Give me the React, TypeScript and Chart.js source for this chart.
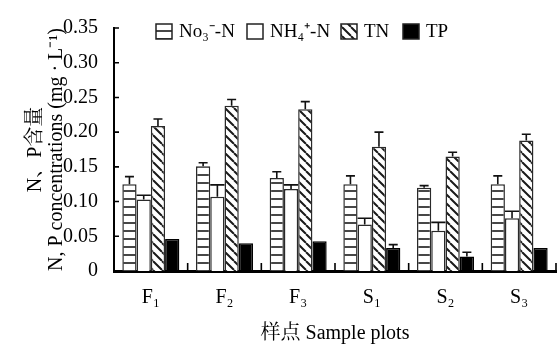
import { useEffect, useRef } from 'react';
import { Chart, registerables } from 'chart.js';

Chart.register(...registerables);

const FONT = '"Liberation Serif", "Times New Roman", "Noto Serif CJK SC", "Noto Sans CJK SC", serif';

const categories = ['F₁', 'F₂', 'F₃', 'S₁', 'S₂', 'S₃'];
const seriesNames = ['No₃⁻-N', 'NH₄⁺-N', 'TN', 'TP'];

const no3 = [0.125, 0.151, 0.134, 0.125, 0.12, 0.125];
const no3Err = [0.011, 0.005, 0.009, 0.012, 0.003, 0.012];
const nh4 = [0.103, 0.107, 0.118, 0.067, 0.058, 0.076];
const nh4Err = [0.006, 0.017, 0.006, 0.009, 0.012, 0.01];
const tn = [0.209, 0.238, 0.233, 0.179, 0.165, 0.188];
const tnErr = [0.01, 0.009, 0.011, 0.021, 0.006, 0.009];
const tp = [0.046, 0.04, 0.043, 0.033, 0.021, 0.033];
const tpErr = [0, 0, 0, 0.005, 0.006, 0];

const yMin = 0;
const yMax = 0.35;
const yStep = 0.05;

const yTitle = ['N、P含量', 'N, P concentrations (mg · L⁻¹)'];
const xTitle = '样点 Sample plots';

function makePattern(kind: string): CanvasPattern | string {
  const s = kind === 'h' ? 8 : 9;
  const c = document.createElement('canvas');
  c.width = s;
  c.height = s;
  const g = c.getContext('2d');
  if (!g) return '#fff';
  g.fillStyle = '#fff';
  g.fillRect(0, 0, s, s);
  g.strokeStyle = '#1a1a1a';
  if (kind === 'h') {
    g.lineWidth = 1.6;
    g.beginPath();
    g.moveTo(0, s - 1);
    g.lineTo(s, s - 1);
    g.stroke();
  } else {
    g.lineWidth = 2;
    g.beginPath();
    for (let k = -1; k <= 1; k++) {
      g.moveTo(k * s, 0);
      g.lineTo(k * s + s, s);
    }
    g.stroke();
  }
  const p = g.createPattern(c, 'repeat');
  return p || '#fff';
}

const errorBarPlugin = {
  id: 'errorBars',
  afterDatasetsDraw(chart: any) {
    const ctx = chart.ctx;
    const yScale = chart.scales.y;
    ctx.save();
    ctx.strokeStyle = '#111';
    ctx.lineWidth = 1.6;
    chart.data.datasets.forEach((ds: any, di: number) => {
      const meta = chart.getDatasetMeta(di);
      const errs: number[] = ds.errors || [];
      meta.data.forEach((el: any, i: number) => {
        const e = errs[i];
        if (!e) return;
        const v = ds.data[i];
        const yTop = yScale.getPixelForValue(v + e);
        const half = ds.fullCap ? el.width / 2 : 4.5;
        ctx.beginPath();
        ctx.moveTo(el.x, el.y);
        ctx.lineTo(el.x, yTop);
        ctx.moveTo(el.x - half, yTop);
        ctx.lineTo(el.x + half, yTop);
        ctx.stroke();
      });
    });
    ctx.restore();
  },
};

const tickPlugin = {
  id: 'innerTicks',
  afterDraw(chart: any) {
    const ctx = chart.ctx;
    const { left, right, bottom } = chart.chartArea;
    const yScale = chart.scales.y;
    ctx.save();
    ctx.strokeStyle = '#000';
    ctx.lineWidth = 1.6;
    ctx.beginPath();
    yScale.ticks.forEach((t: any) => {
      const py = yScale.getPixelForValue(t.value);
      ctx.moveTo(left, py);
      ctx.lineTo(left + 5, py);
    });
    const n = chart.data.labels.length;
    for (let i = 1; i <= n; i++) {
      const px = left + ((right - left) * i) / n;
      ctx.moveTo(px, bottom);
      ctx.lineTo(px, bottom - 8);
    }
    ctx.stroke();
    ctx.restore();
  },
};

const legendPlugin = {
  id: 'insideLegend',
  afterDraw(chart: any) {
    const ctx = chart.ctx;
    const boxX = [156, 247, 341, 403];
    ctx.save();
    ctx.font = '19px ' + FONT;
    ctx.textAlign = 'left';
    ctx.textBaseline = 'alphabetic';
    chart.data.datasets.forEach((ds: any, i: number) => {
      const x = boxX[i];
      ctx.fillStyle = ds.backgroundColor;
      ctx.fillRect(x, 24, 16, 15);
      ctx.strokeStyle = '#222';
      ctx.lineWidth = 1.5;
      ctx.strokeRect(x, 24, 16, 15);
      ctx.fillStyle = '#000';
      ctx.fillText(ds.label, x + 23, 37);
    });
    ctx.restore();
  },
};

export default function App() {
  const ref = useRef<HTMLCanvasElement | null>(null);

  useEffect(() => {
    if (!ref.current) return;
    const common = {
      borderColor: '#2a2a2a',
      borderWidth: 1.5,
      categoryPercentage: 0.774,
      barPercentage: 1,
    };
    const chart = new Chart(ref.current, {
      type: 'bar',
      data: {
        labels: categories,
        datasets: [
          { ...common, label: seriesNames[0], data: no3, errors: no3Err, backgroundColor: makePattern('h') } as any,
          { ...common, label: seriesNames[1], data: nh4, errors: nh4Err, fullCap: true, backgroundColor: '#fff' } as any,
          { ...common, label: seriesNames[2], data: tn, errors: tnErr, backgroundColor: makePattern('d') } as any,
          { ...common, label: seriesNames[3], data: tp, errors: tpErr, backgroundColor: '#000', borderColor: '#000' } as any,
        ],
      },
      options: {
        responsive: false,
        animation: false,
        layout: { padding: { top: 14, right: 1, left: 0, bottom: 0 } },
        plugins: { legend: { display: false }, tooltip: { enabled: false } },
        scales: {
          x: {
            offset: true,
            grid: { display: false, drawTicks: false },
            border: { display: true, color: '#000', width: 3 },
            ticks: { color: '#000', font: { size: 20, family: FONT }, padding: 15, maxRotation: 0 },
            title: {
              display: true,
              text: xTitle,
              color: '#000',
              font: { size: 20, family: FONT },
              padding: { top: 0, bottom: 1 },
            },
            afterFit: (s: any) => {
              s.height = 76;
            },
          },
          y: {
            min: yMin,
            max: yMax,
            grid: { display: false, drawTicks: false },
            border: { display: true, color: '#000', width: 2 },
            ticks: {
              stepSize: yStep,
              color: '#000',
              padding: 16,
              font: { size: 20, family: FONT },
              callback: (v: any) => (Number(v) === 0 ? '0' : Number(v).toFixed(2)),
            },
            title: {
              display: true,
              text: yTitle,
              color: '#000',
              font: { size: 20, family: FONT, lineHeight: 1.05 },
              padding: { top: 25, bottom: 0 },
            },
            afterFit: (s: any) => {
              s.width = 114;
            },
          },
        },
      } as any,
      plugins: [errorBarPlugin, tickPlugin, legendPlugin],
    });
    return () => chart.destroy();
  }, []);

  return (
    <div style={{ position: 'absolute', left: 0, top: 0, width: 557, height: 347, background: '#fff' }}>
      <canvas ref={ref} width={557} height={347} />
    </div>
  );
}
